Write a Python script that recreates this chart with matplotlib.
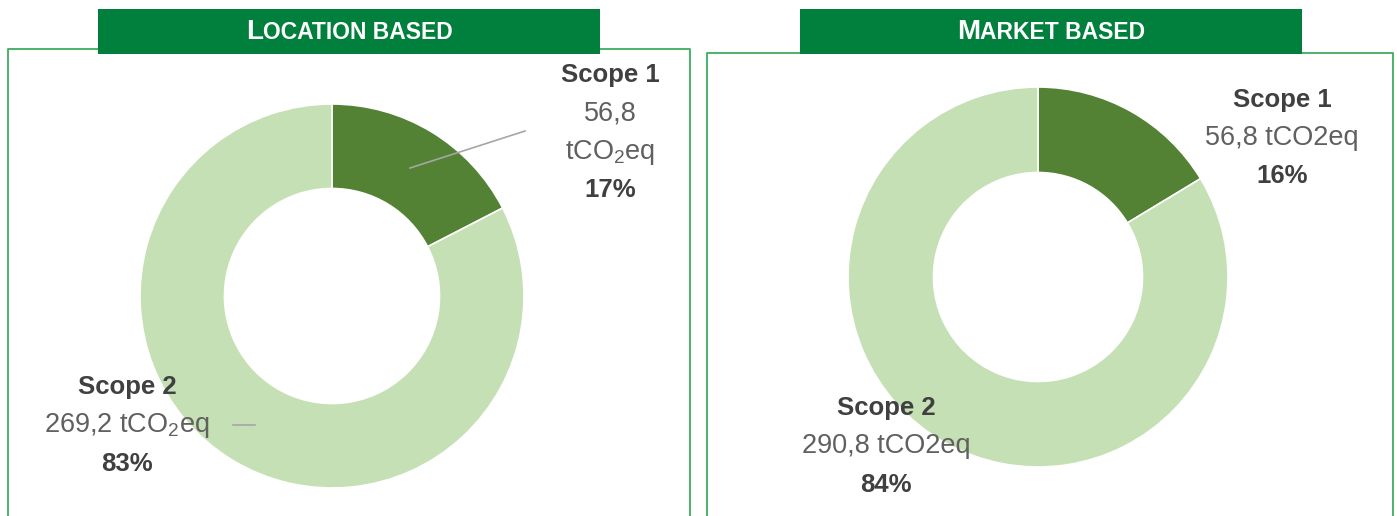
import matplotlib
matplotlib.use('Agg')
import matplotlib.pyplot as plt
from matplotlib.patches import Rectangle
from matplotlib.lines import Line2D
from matplotlib.offsetbox import TextArea, HPacker, AnnotationBbox

plt.rcParams['font.family'] = ['Liberation Sans', 'DejaVu Sans']
plt.rcParams['mathtext.fontset'] = 'custom'
plt.rcParams['mathtext.rm'] = 'Liberation Sans'
plt.rcParams['mathtext.it'] = 'Liberation Sans'

scopes = ['Scope 1', 'Scope 2']
location_values = [56.8, 269.2]
market_values = [56.8, 290.8]
colors = ['#548235', '#C5E0B4']

W, H = 1397, 516
fig = plt.figure(figsize=(W / 100, H / 100), dpi=100)


def px(x, y):
    return x / W, 1 - y / H


def donut(cx, cy, r, values, hole):
    ax = fig.add_axes([(cx - r) / W, (H - cy - r) / H, 2 * r / W, 2 * r / H])
    ax.pie(values, colors=colors, startangle=90, counterclock=False, radius=1,
           wedgeprops=dict(width=1 - hole, edgecolor='white', linewidth=1.2))
    ax.set_xlim(-1, 1)
    ax.set_ylim(-1, 1)
    ax.set_aspect('equal')
    ax.axis('off')
    return ax


def pct(values):
    tot = sum(values)
    return [f'{round(v / tot * 100)}%' for v in values]


def num(v):
    return f'{v:.1f}'.replace('.', ',')


# panel frames
frame_col = '#3DAE5F'
for x0, x1, y0 in [(8, 690, 49), (707, 1393, 53)]:
    xs = [x0, x0, x1, x1]
    ys = [H + 5, y0, y0, H + 5]
    fig.add_artist(Line2D([x / W for x in xs], [1 - y / H for y in ys],
                          color=frame_col, lw=1.3, transform=fig.transFigure, zorder=1))

# header bars
head_col = '#00803C'
for x0, x1, first, rest in [(98, 600, 'L', 'OCATION BASED'),
                            (800, 1302, 'M', 'ARKET BASED')]:
    fig.add_artist(Rectangle(px(x0, 54), (x1 - x0) / W, 45 / H,
                             facecolor=head_col, edgecolor='none',
                             transform=fig.transFigure, zorder=5))
    big = TextArea(first, textprops=dict(color='white', fontsize=20, fontweight='bold'))
    small = TextArea(rest, textprops=dict(color='white', fontsize=16.5, fontweight='bold'))
    box = HPacker(children=[big, small], align='baseline', pad=0, sep=0)
    ab = AnnotationBbox(box, px((x0 + x1) / 2, 32), xycoords='figure fraction',
                        frameon=False, box_alignment=(0.5, 0.5), zorder=6)
    fig.add_artist(ab)

donut(332, 296, 192, location_values, 0.56)
donut(1038, 277, 190, market_values, 0.55)

lab_col = '#404040'
val_col = '#606060'


def label_block(x, lines):
    for (y, s, bold) in lines:
        fig.text(*px(x, y), s, ha='center', va='center',
                 fontsize=18.5 if bold else 19.5,
                 fontweight='bold' if bold else 'normal',
                 color=lab_col if bold else val_col)


lp = pct(location_values)
mp = pct(market_values)

label_block(610, [(75, scopes[0], True), (114, num(location_values[0]), False),
                  (152, 'tCO$_2$eq', False), (190, lp[0], True)])
label_block(127, [(387, scopes[1], True),
                  (425, num(location_values[1]) + ' tCO$_2$eq', False),
                  (464, lp[1], True)])
label_block(1282, [(100, scopes[0], True), (138, num(market_values[0]) + ' tCO2eq', False),
                   (176, mp[0], True)])
label_block(886, [(408, scopes[1], True), (446, num(market_values[1]) + ' tCO2eq', False),
                  (485, mp[1], True)])

# leader lines
for (x0, y0, x1, y1) in [(410, 168, 525, 131), (233, 425, 255, 425)]:
    fig.add_artist(Line2D([x0 / W, x1 / W], [1 - y0 / H, 1 - y1 / H],
                          color='#A6A6A6', lw=1.2, transform=fig.transFigure))

fig.savefig('out.png', dpi=100)
